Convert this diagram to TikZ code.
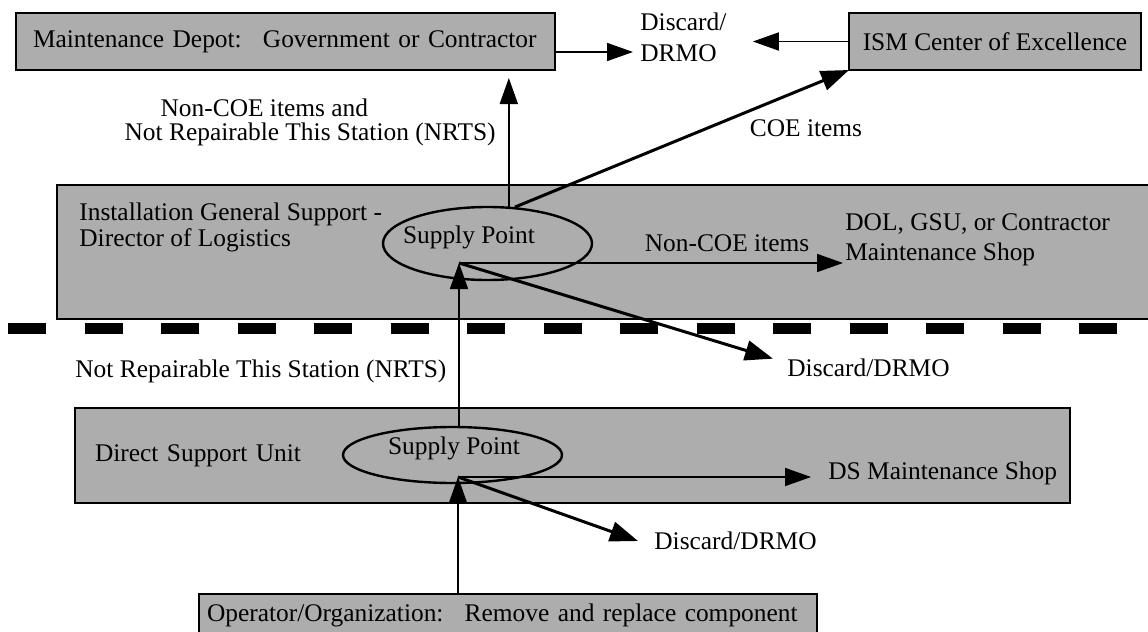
\documentclass[tikz,border=0pt]{standalone}
\usepackage{fontspec}
\setmainfont{Liberation Serif}
\usetikzlibrary{calc,shapes.geometric,arrows.meta}
\definecolor{gris}{gray}{0.68}

\begin{document}
\begin{tikzpicture} [x=0.5pt,y=-0.5pt,
  font=\fontsize{12.7pt}{13pt}\selectfont,
  boite/.style=
  {rectangle, draw=black, line width=1.4pt, fill=gris,
    inner sep=0pt, outer sep=0pt, align=left},
  ovale/.style=
  {ellipse, draw=black, line width=1.2pt, fill=gris, inner sep=0pt},
  texte/.style={inner sep=0pt, align=left},
  fleche/.style={-{Triangle[length=13pt,width=9pt]}, line width=0.85pt},
  grosfleche/.style={-{Triangle[length=14pt,width=10pt]}, line width=1.5pt}]
\useasboundingbox (0,0) rectangle (1148,632);
\node [boite,anchor=west,minimum width=269.5pt,minimum height=28.5pt,text width=252.5pt,inner xsep=8.5pt] (depot) at (16,41.5) {Maintenance Depot: \ Government or Contractor};
\node [boite,minimum width=146pt,minimum height=28.5pt,align=center] (ism) at (995,41.5) {ISM Center of Excellence};
\node [texte,anchor=west] (drmo1) at (640,37.5) {Discard/\\[2.5pt]DRMO};
\node [texte,anchor=east] (nrts1) at (496,122) {\hspace*{18pt}Non-COE items and\\[-1pt]Not Repairable This Station (NRTS)};
\node [texte] (coe) at (806,128) {COE items};
\node [boite,anchor=north west,minimum width=547.5pt,minimum height=67pt] (igs) at (57,185) {};
\node [texte,anchor=west] (igstext) at ($(igs.north west)+(22,42)$) {Installation General Support -\\Director of Logistics};
\node [ovale,minimum width=104.5pt,minimum height=36.5pt,label={[xshift=-9.25pt,yshift=3.25pt]center:Supply Point}] (sp1) at (487.5,243.5) {};
\node [texte] (noncoe) at (727,243) {Non-COE items};
\node [texte,anchor=west] (dolshop) at (845,240) {DOL, GSU, or Contractor\\[2pt]Maintenance Shop};
\coordinate (gauche) at (8,328);
\coordinate (droite) at (1148,328);
\draw [line width=5.5pt,dash pattern=on 19pt off 19.25pt] (gauche) -- (droite);
\node [texte,anchor=west] (drmo2) at (787,368) {Discard/DRMO};
\node [texte,anchor=west] (nrts2) at (75,371) {Not Repairable This Station (NRTS)};
\node [boite,anchor=west,minimum width=497.5pt,minimum height=47.5pt,text width=477.5pt,inner xsep=10pt] (dsu) at (75,455.5) {Direct Support Unit};
\node [ovale,minimum width=109.5pt,minimum height=28pt,label={[xshift=0.75pt,yshift=3.5pt]center:Supply Point}] (sp2) at (452.5,455) {};
\node [texte,anchor=west] (dsshop) at (828,473) {DS Maintenance Shop};
\node [texte,anchor=west] (drmo3) at (654,541) {Discard/DRMO};
\node [boite,anchor=north west,minimum width=309pt,minimum height=21pt,text width=301pt,inner xsep=4pt] (oper) at (199,594) {Operator/Organization: \ Remove and replace component};
\coordinate (hub1) at (459,263);
\coordinate (hub2) at (458,477);
\draw [fleche] (oper.north -| hub2) -- (hub2);
\draw [fleche] (sp2.north -| hub1) -- (hub1);
\draw [fleche,shorten >=1pt] (hub1) -- (hub1 -| dolshop.west);
\draw [grosfleche] (hub1) -- ([xshift=-7pt]drmo2.north west);
\draw [fleche,shorten >=8.5pt] (hub2) -- (hub2 -| dsshop.west);
\draw [grosfleche] (hub2) -- ([xshift=-8pt]drmo3.west);
\coordinate (depotin) at ($(sp1.60 |- depot.south)+(0,8)$);
\draw [fleche] (sp1.60) -- (depotin);
\draw [grosfleche] (sp1.53) -- (ism.south west);
\coordinate (depotout) at ($(depot.east)+(0,10.5)$);
\draw [fleche,shorten >=3.5pt] (depotout) -- (depotout -| drmo1.west);
\coordinate (ismin) at ($(drmo1.east)+(26,0)$);
\draw [fleche] (ism.west) -- (ism.west -| ismin);
\end{tikzpicture}
\end{document}
